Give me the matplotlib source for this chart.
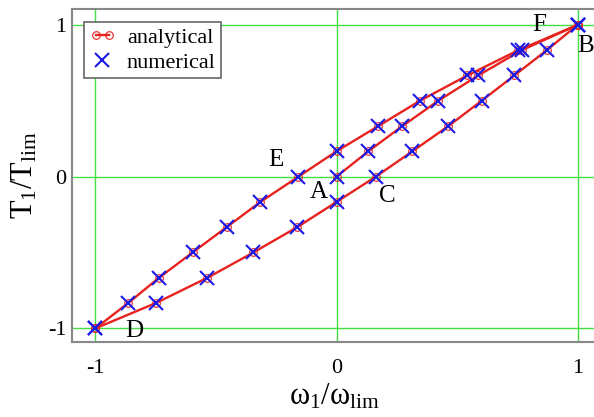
#!/usr/bin/python
# -*- coding: utf-8 -*-

import matplotlib
matplotlib.use('Agg')
import matplotlib.pyplot as plt
from matplotlib.legend_handler import HandlerLine2D


plt.rcParams['font.family'] = 'Liberation Serif'
plt.rcParams['mathtext.fontset'] = 'custom'
plt.rcParams['mathtext.rm'] = 'Liberation Serif'
plt.rcParams['mathtext.it'] = 'Liberation Serif:italic'

# torque levels T1/Tlim where the loop was sampled
t_loop = [-1.0, -0.833, -0.667, -0.5, -0.333, -0.167, 0.0,
          0.167, 0.333, 0.5, 0.667, 0.833, 1.0]

# speed w1/wlim on the reloading branch D -> E -> F -> B
w_upper = [-1.0, -0.864, -0.737, -0.597, -0.456, -0.316, -0.158,
           0.0, 0.173, 0.346, 0.543, 0.754, 1.0]

# speed on the unloading branch B -> C -> D
w_lower = [-1.0, -0.749, -0.536, -0.345, -0.163, 0.0, 0.163,
           0.315, 0.464, 0.602, 0.738, 0.872, 1.0]

# initial loading branch A -> B
t_init = [0.0, 0.167, 0.333, 0.5, 0.667, 0.833, 1.0]
w_init = [0.0, 0.132, 0.273, 0.422, 0.588, 0.768, 1.0]

# point labels
pt_names = ['A', 'B', 'C', 'D', 'E', 'F']
pt_x = [-0.075, 1.035, 0.21, -0.84, -0.25, 0.84]
pt_y = [-0.10, 0.86, -0.13, -1.02, 0.11, 1.0]

ticks = [-1, 0, 1]
tick_labels = ['-1', '0', '1']


fig = plt.figure(figsize=(5.94, 4.17), dpi=100)
ax = fig.add_axes([0.1212, 0.1799, 0.8835, 0.7985])

red = '#e8221e'
blue = '#1a1ae6'

branches = [(w_init, t_init), (w_upper, t_loop), (w_lower, t_loop)]
for i, (w, t) in enumerate(branches):
    ax.plot(w, t, '-', color=red, lw=1.7, marker='o', ms=5.5, mfc='none',
            mec=red, mew=0.8, label='analytical' if i == 0 else None,
            zorder=3)
for i, (w, t) in enumerate(branches):
    ax.plot(w, t, 'x', color=blue, ms=10, mew=1.5, ls='none',
            label='numerical' if i == 0 else None, zorder=4)

for name, x, y in zip(pt_names, pt_x, pt_y):
    ax.text(x, y, name, fontsize=18, ha='center', va='center', zorder=5)

ax.set_xlim(-1.0975, 1.08)
ax.set_ylim(-1.09, 1.105)
ax.set_xticks(ticks)
ax.set_xticklabels(tick_labels)
ax.set_yticks(ticks)
ax.set_yticklabels(tick_labels)
ax.tick_params(length=0, labelsize=16)
ax.tick_params(axis='x', pad=12)
ax.tick_params(axis='y', pad=4)
ax.grid(True, color='#44dd44', lw=1.0)
ax.set_axisbelow(True)

for side in ['left', 'bottom', 'top', 'right']:
    ax.spines[side].set_color('#888888')
    ax.spines[side].set_linewidth(1.5)

ax.set_xlabel(r'$\mathrm{\omega_1/\omega_{lim}}$', fontsize=22, labelpad=3)
ax.set_ylabel(r'$\mathrm{T_1/T_{lim}}$', fontsize=22, labelpad=6)

legend = ax.legend(loc='upper left', bbox_to_anchor=(0.022, 0.962),
                   fontsize=16, fancybox=False, framealpha=1,
                   edgecolor='#666666', handlelength=1.2,
                   handletextpad=0.5, borderpad=0.25, labelspacing=0.2,
                   borderaxespad=0,
                   handler_map={ax.lines[0]: HandlerLine2D(numpoints=2)})
legend.get_frame().set_linewidth(1.2)

plt.savefig('out.png', dpi=100)
